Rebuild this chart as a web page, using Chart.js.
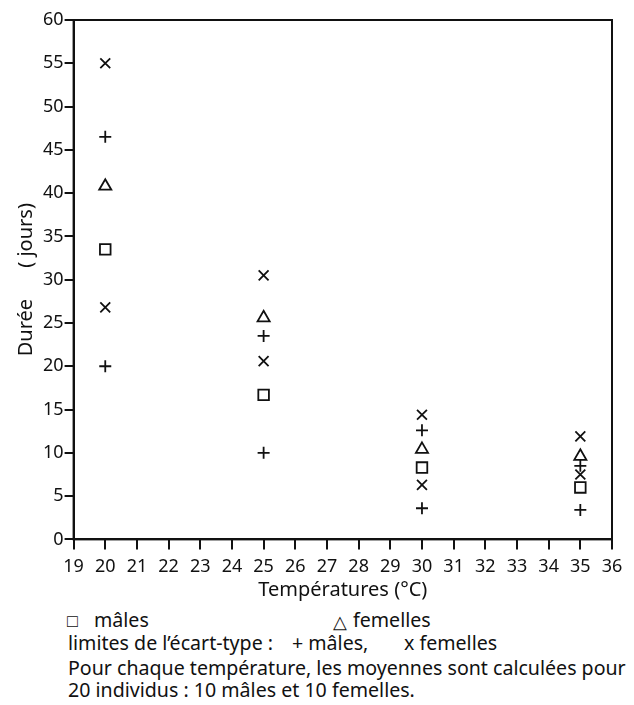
<!DOCTYPE html>
<html>
<head>
<meta charset="utf-8">
<script src="https://cdn.jsdelivr.net/npm/chart.js@4/dist/chart.umd.min.js"></script>
<style>
  body { margin: 0; background: #fff; font-family: "Noto Sans", sans-serif; color: #111; }
  #wrap { position: relative; width: 634px; height: 705px; }
  #chartBox { position: absolute; left: 0; top: 0; width: 634px; height: 603px; }
  .note { position: absolute; font-size: 19.6px; white-space: nowrap; line-height: 24px; }
  .sym { font-size: 18px; }
</style>
</head>
<body>
<div id="wrap">
  <div id="chartBox"><canvas id="myChart"></canvas></div>
  <div class="note sym" style="left:67px; top:608px;">□</div>
  <div class="note" style="left:94px; top:608px;">mâles</div>
  <div class="note sym" style="left:333px; top:609px;">△</div>
  <div class="note" style="left:353px; top:608px;">femelles</div>
  <div class="note" style="left:68px; top:631px;">limites de l’écart-type :</div>
  <div class="note" style="left:292px; top:631px;">+ mâles,</div>
  <div class="note" style="left:404px; top:631px;">x femelles</div>
  <div class="note" style="left:68px; top:656px;">Pour chaque température, les moyennes sont calculées pour</div>
  <div class="note" style="left:68px; top:678px;">20 individus : 10 mâles et 10 femelles.</div>
</div>
<script>
// temperatures (°C)
const temperatures = [20, 25, 30, 35];

// mean durations (jours)
const moyMales = [33.5, 16.7, 8.3, 6.0];
const moyFemelles = [40.8, 25.6, 10.4, 9.6];

// standard deviation limits
const malesHaut = [46.5, 23.5, 12.6, 8.5];
const malesBas = [20.0, 10.0, 3.6, 3.4];
const femellesHaut = [55.0, 30.5, 14.4, 11.9];
const femellesBas = [26.8, 20.6, 6.3, 7.5];

const xTicks = [19, 20, 21, 22, 23, 24, 25, 26, 27, 28, 29, 30, 31, 32, 33, 34, 35, 36];
const yTicks = [0, 5, 10, 15, 20, 25, 30, 35, 40, 45, 50, 55, 60];

function toPoints(vals) {
  return temperatures.map((t, i) => ({ x: t, y: vals[i] }));
}

function marker(label, vals, style, radius) {
  return {
    label: label,
    data: toPoints(vals),
    pointStyle: style,
    pointRadius: radius,
    pointHoverRadius: radius,
    borderColor: "#111",
    backgroundColor: "rgba(0,0,0,0)",
    borderWidth: 1.8,
  };
}

// box around the plot (top and right sides)
const frame = {
  id: "frame",
  afterDraw(chart) {
    const a = chart.chartArea;
    const c = chart.ctx;
    c.save();
    c.strokeStyle = "#111";
    c.lineWidth = 2;
    c.strokeRect(a.left, a.top, a.right - a.left, a.bottom - a.top);
    c.restore();
  },
};

const ctx = document.getElementById("myChart");
const data = {
  datasets: [
    marker("mâles", moyMales, "rect", 7.5),
    marker("femelles", moyFemelles, "triangle", 7),
    marker("limites mâles +", malesHaut, "cross", 6),
    marker("limites mâles -", malesBas, "cross", 6),
    marker("limites femelles +", femellesHaut, "crossRot", 7),
    marker("limites femelles -", femellesBas, "crossRot", 7),
  ],
};

const config = {
  type: "scatter",
  data: data,
  options: {
    responsive: true,
    maintainAspectRatio: false,
    animation: false,
    layout: { padding: { top: 20, right: 22, left: 10, bottom: 1 } },
    plugins: {
      legend: { display: false },
      tooltip: { enabled: false },
    },
    scales: {
      x: {
        type: "linear",
        min: 19,
        max: 36,
        afterBuildTicks: (axis) => {
          axis.ticks = xTicks.map((v) => ({ value: v }));
        },
        grid: { drawOnChartArea: false, drawTicks: true, tickLength: 10, color: "#111", lineWidth: 2 },
        border: { display: true, color: "#111", width: 2 },
        ticks: { color: "#111", font: { family: "Noto Sans", size: 18 }, padding: 7, maxRotation: 0, autoSkip: false },
        title: { display: true, text: "Températures (°C)", color: "#111", font: { family: "Noto Sans", size: 20 }, padding: { top: -7, bottom: 0 } },
      },
      y: {
        min: 0,
        max: 60,
        afterBuildTicks: (axis) => {
          axis.ticks = yTicks.map((v) => ({ value: v }));
        },
        grid: { drawOnChartArea: false, drawTicks: true, tickLength: 9, color: "#111", lineWidth: 2 },
        border: { display: true, color: "#111", width: 2 },
        ticks: { color: "#111", font: { family: "Noto Sans", size: 18 }, padding: 1 },
        title: { display: true, text: "Durée      ( jours)", color: "#111", font: { family: "Noto Sans", size: 20 }, padding: { bottom: 4 } },
      },
    },
  },
  plugins: [frame],
};

const myChart = new Chart(ctx, config);
</script>
</body>
</html>
